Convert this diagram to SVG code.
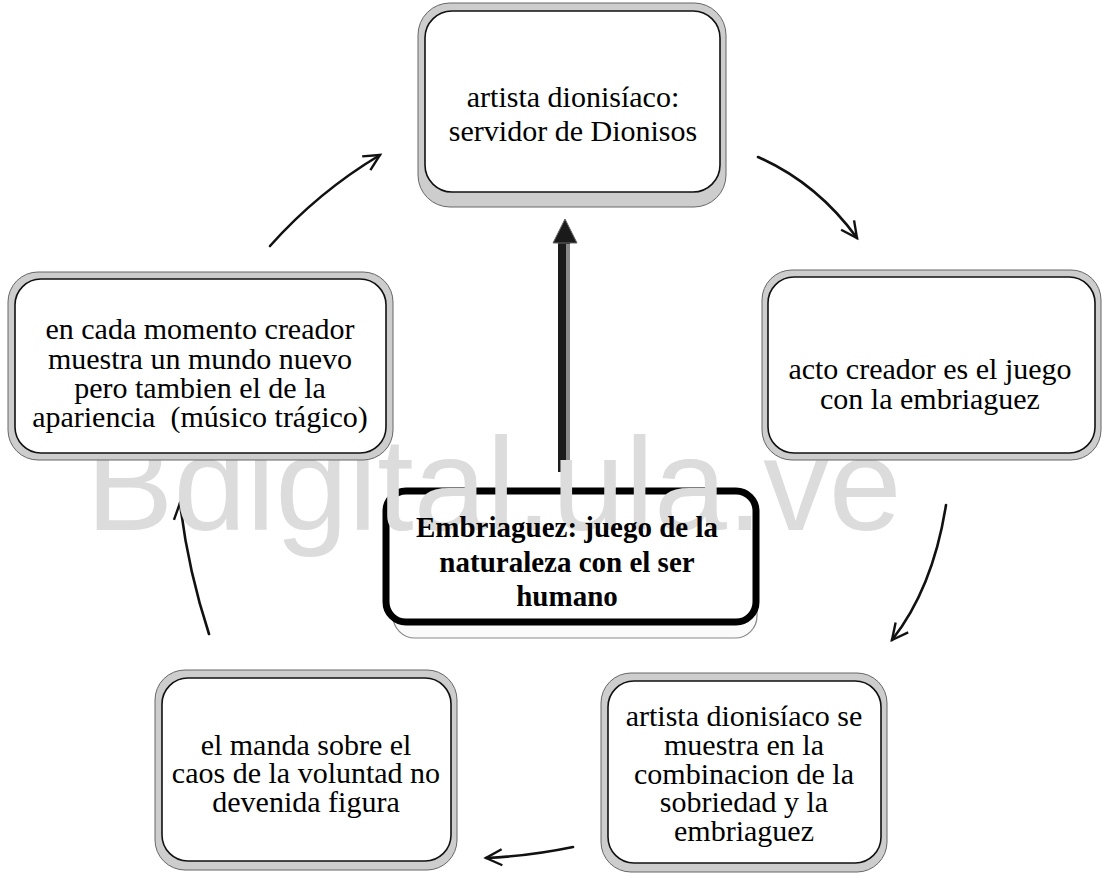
<svg xmlns="http://www.w3.org/2000/svg" width="1107" height="880" viewBox="0 0 1107 880">
<style>
.outer{fill:#cdcdcd;stroke:#666;stroke-width:1}
.inner{fill:#fff;stroke:#111;stroke-width:1.6}
.t{font-family:"Liberation Serif","Times New Roman",serif;font-size:30px;fill:#000;text-anchor:middle}
.tb{font-family:"Liberation Serif","Times New Roman",serif;font-size:29px;font-weight:bold;fill:#000;text-anchor:middle}
.conn{fill:none;stroke:#111;stroke-width:2.6;stroke-linecap:round}
.wm{font-family:"Liberation Sans",Arial,sans-serif;font-size:131px;fill:#dcdcdc}
</style>
<defs>
<marker id="open" markerUnits="userSpaceOnUse" markerWidth="24" markerHeight="24" refX="20" refY="10" viewBox="0 0 24 20" orient="auto">
<path d="M4,2 L20,10 L4,18" fill="none" stroke="#111" stroke-width="2.4" stroke-linejoin="miter"/>
</marker>
</defs>
<rect width="1107" height="880" fill="#fff"/>
<g id="connectors">
<path class="conn" d="M270,246 Q318,192 380,155" marker-end="url(#open)"/>
<path class="conn" d="M758,157 Q817,183 857,238" marker-end="url(#open)"/>
<path class="conn" d="M946,505 Q933,588 892,640" marker-end="url(#open)"/>
<path class="conn" d="M573,847 Q530,856 486,858" marker-end="url(#open)"/>
<path class="conn" d="M209,634 Q188,570 180,503" marker-end="url(#open)"/>
<g id="center-arrow">
<rect x="558" y="240" width="12" height="232" fill="#1a1a1a"/>
<rect x="566" y="244" width="4" height="228" fill="#888"/>
<polygon points="553,243 565,219 577,243" fill="#1a1a1a" stroke="#666" stroke-width="1"/>
</g>
</g>
<g id="center">
<rect x="393" y="500" width="364" height="138" rx="22" fill="#fafafa" stroke="#888" stroke-width="1.2"/>
<rect x="386" y="491" width="370" height="131" rx="20" fill="#fff" stroke="#000" stroke-width="7"/>
</g>
<text class="wm" x="86" y="530">Bdigital.ula.ve</text>
<g id="center-text">
<text class="tb" x="567" y="537">Embriaguez: juego de la</text>
<text class="tb" x="567" y="572">naturaleza con el ser</text>
<text class="tb" x="567" y="606">humano</text>
</g>
<g id="top">
<rect class="outer" x="418" y="3" width="308" height="204" rx="32"/>
<rect class="inner" x="425" y="11" width="295" height="181" rx="27"/>
<text class="t" x="573" y="107">artista dionisíaco:</text>
<text class="t" x="573" y="141">servidor de Dionisos</text>
</g>
<g id="left">
<rect class="outer" x="8" y="272" width="385" height="188" rx="30"/>
<rect class="inner" x="15" y="279" width="371" height="174" rx="26"/>
<text class="t" x="200" y="339">en cada momento creador</text>
<text class="t" x="200" y="369">muestra un mundo nuevo</text>
<text class="t" x="200" y="398">pero tambien el de la</text>
<text class="t" x="200" y="427" xml:space="preserve">apariencia  (músico trágico)</text>
</g>
<g id="right">
<rect class="outer" x="762" y="270" width="339" height="190" rx="30"/>
<rect class="inner" x="768" y="277" width="327" height="176" rx="26"/>
<text class="t" x="930" y="379">acto creador es el juego</text>
<text class="t" x="930" y="409">con la embriaguez</text>
</g>
<g id="bottom-left">
<rect class="outer" x="155" y="670" width="302" height="200" rx="30"/>
<rect class="inner" x="162" y="678" width="289" height="183" rx="26"/>
<text class="t" x="306" y="755">el manda sobre el</text>
<text class="t" x="306" y="783">caos de la voluntad no</text>
<text class="t" x="306" y="812">devenida figura</text>
</g>
<g id="bottom-right">
<rect class="outer" x="601" y="673" width="286" height="199" rx="30"/>
<rect class="inner" x="608" y="681" width="273" height="182" rx="26"/>
<text class="t" x="744" y="726">artista dionisíaco se</text>
<text class="t" x="744" y="755">muestra en la</text>
<text class="t" x="744" y="784">combinacion de la</text>
<text class="t" x="744" y="812">sobriedad y la</text>
<text class="t" x="744" y="841">embriaguez</text>
</g>
</svg>
